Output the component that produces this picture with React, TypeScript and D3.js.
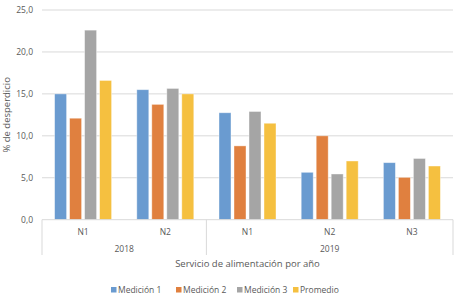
import React from "react";
import * as d3 from "d3";

const categories = ["N1", "N2", "N1", "N2", "N3"];
const years = ["2018", "2019"];
const yearSpans = [2, 3];
const seriesNames = ["Medición 1", "Medición 2", "Medición 3", "Promedio"];
const medicion1 = [15.0, 15.5, 12.75, 5.65, 6.8];
const medicion2 = [12.1, 13.75, 8.8, 10.0, 5.05];
const medicion3 = [22.6, 15.65, 12.9, 5.45, 7.3];
const promedio = [16.6, 15.0, 11.5, 7.0, 6.4];
const yTicks = [0, 5, 10, 15, 20, 25];
const colors = ["#6a9bd0", "#e0803f", "#a5a5a5", "#f5c040"];

const W = 466;
const H = 300;
const left = 42;
const right = 453;
const top = 10;
const bottom = 219.7;
const FONT = "'Open Sans', 'Noto Sans', sans-serif";

export default function App() {
  const series = [medicion1, medicion2, medicion3, promedio];
  const idx = categories.map((_, i) => i);
  const x = d3.scaleBand<number>().domain(idx).range([left, right]).padding(0);
  const xi = d3
    .scaleBand<number>()
    .domain([0, 1, 2, 3])
    .range([0, x.bandwidth()])
    .paddingInner(0.2)
    .paddingOuter(0.84);
  const y = d3.scaleLinear().domain([0, 25]).range([bottom, top]);
  const fmt = (v: number) => v.toFixed(1).replace(".", ",");

  // year boundaries
  const bounds: number[] = [left];
  let acc = 0;
  yearSpans.forEach((s) => {
    acc += s;
    bounds.push(acc < categories.length ? (x(acc) as number) : right);
  });

  const legendX = [113, 178, 239, 295];

  return (
    <svg
      width={W}
      height={H}
      style={{ position: "absolute", left: 0, top: 0, background: "#fff" }}
      fontFamily={FONT}
    >
      {yTicks.map((t) => (
        <g key={t}>
          {t > 0 && (
            <line x1={left} x2={right} y1={y(t)} y2={y(t)} stroke="#d9d9d9" strokeWidth={1} />
          )}
          <text x={33} y={y(t)} dy="0.35em" textAnchor="end" fontSize={8.5} fill="#595959">
            {fmt(t)}
          </text>
        </g>
      ))}
      {series.map((vals, s) =>
        vals.map((v, i) => (
          <rect
            key={`${s}-${i}`}
            x={(x(i) as number) + (xi(s) as number)}
            y={y(v)}
            width={xi.bandwidth()}
            height={y(0) - y(v)}
            fill={colors[s]}
            stroke="#ffffff"
            strokeOpacity={0.5}
            strokeWidth={0.8}
          />
        ))
      )}
      <line x1={left} x2={right} y1={bottom} y2={bottom} stroke="#d9d9d9" strokeWidth={1} />
      {bounds.map((b, i) => (
        <line key={i} x1={b} x2={b} y1={bottom} y2={255} stroke="#d9d9d9" strokeWidth={1} />
      ))}
      {categories.map((c, i) => (
        <text
          key={i}
          x={(x(i) as number) + x.bandwidth() / 2}
          y={232}
          dy="0.35em"
          textAnchor="middle"
          fontSize={8.5}
          fill="#595959"
        >
          {c}
        </text>
      ))}
      {years.map((yr, i) => (
        <text
          key={yr}
          x={(bounds[i] + bounds[i + 1]) / 2}
          y={249}
          dy="0.35em"
          textAnchor="middle"
          fontSize={8.5}
          fill="#595959"
        >
          {yr}
        </text>
      ))}
      <text x={(left + right) / 2} y={263.5} dy="0.35em" textAnchor="middle" fontSize={9.5} fill="#595959">
        Servicio de alimentación por año
      </text>
      <text
        transform={`translate(7,${(top + bottom) / 2}) rotate(-90)`}
        dy="0.35em"
        textAnchor="middle"
        fontSize={9.5}
        fill="#595959"
      >
        % de desperdicio
      </text>
      {seriesNames.map((n, i) => (
        <g key={n} transform={`translate(${legendX[i]},290)`}>
          <rect x={-2} y={-3} width={5.5} height={5.5} fill={colors[i]} />
          <text x={5} y={0} dy="0.35em" fontSize={8.5} fill="#595959">
            {n}
          </text>
        </g>
      ))}
    </svg>
  );
}
